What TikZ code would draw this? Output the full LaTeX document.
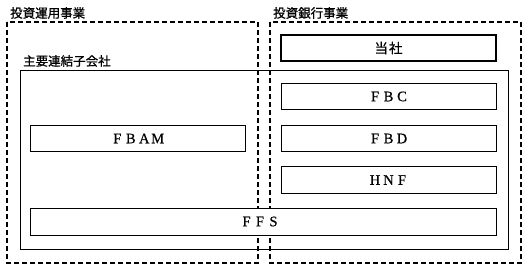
\documentclass[tikz,border=0pt]{standalone}
\usepackage{fontspec}
\setmainfont{Liberation Serif}[FakeBold=0.5]
\newfontfamily\jp{Noto Sans CJK JP}[FakeBold=0.8]
\newcommand\fwl[1]{\makebox[13.5pt]{#1}}
\begin{document}
\begin{tikzpicture}[x=1pt,y=-1pt,
  group/.style={draw,line width=1.3pt,dash pattern=on 5pt off 3pt},
  main/.style={draw,line width=0.9pt},
  co/.style={draw,fill=white,line width=0.9pt},
  top/.style={draw,line width=2.6pt},
  lbl/.style={font=\fontsize{14.5}{14.5}\selectfont},
  hdr/.style={anchor=west,inner sep=0pt,font=\jp\fontsize{12.5}{13}\selectfont}]
\useasboundingbox (0,0) rectangle (527,269);
\draw[group] (7,22) rectangle (258,263);
\draw[group] (270,22) rectangle (521,263);
\draw[main] (20,70) rectangle (508,249);
\node[hdr] (h1) at (10,13) {投資運用事業};
\node[hdr] (h2) at (273,13) {投資銀行事業};
\node[hdr] (h3) at (23,61) {主要連結子会社};
\draw[top] (281,35) rectangle (496,61);
\node[font=\jp\fontsize{13.5}{13.5}\selectfont] (tosha) at (388.5,48) {当\hspace{1pt}社};
\draw[co] (281,83) rectangle (496,109);
\node[lbl] (fbc) at (388.5,96.5) {\fwl{F}\fwl{B}\fwl{C}};
\draw[co] (281,125) rectangle (496,151);
\node[lbl] (fbd) at (388.5,138.5) {\fwl{F}\fwl{B}\fwl{D}};
\draw[co] (281,166) rectangle (496,193);
\node[lbl] (hnf) at (388.5,180) {\fwl{H}\fwl{N}\fwl{F}};
\draw[co] (30,125) rectangle (245,151);
\node[lbl] (fbam) at (137.5,138.5) {\fwl{F}\fwl{B}\fwl{A}\fwl{M}};
\draw[co] (30,208) rectangle (496,235);
\node[lbl] (ffs) at (260,221.5) {\fwl{F}\fwl{F}\fwl{S}};
\end{tikzpicture}
\end{document}
